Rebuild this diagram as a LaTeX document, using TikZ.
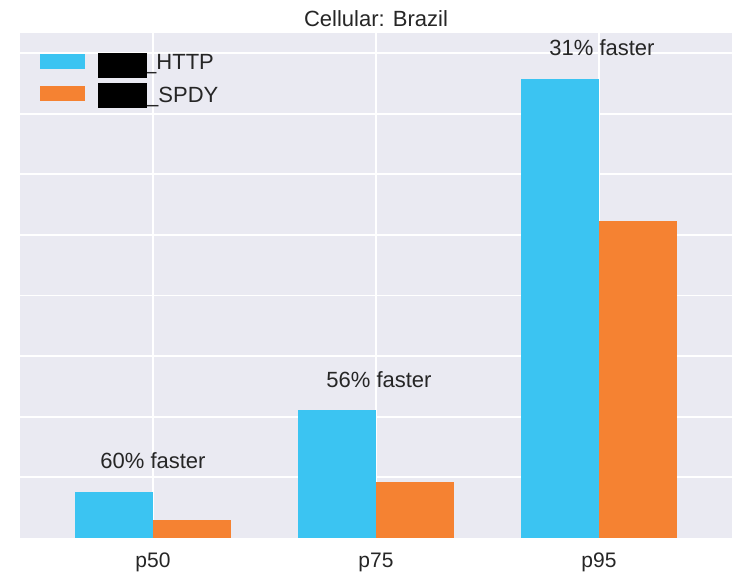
\documentclass[tikz,border=0pt]{standalone}
\usepackage{fontspec}
\setmainfont{Liberation Sans}
\definecolor{bgc}{HTML}{EAEAF2}
\definecolor{httpc}{HTML}{3BC4F2}
\definecolor{spdyc}{HTML}{F58232}
\definecolor{txt}{HTML}{262626}
\tikzset{
  lbl/.style={inner sep=0pt, anchor=base, text=txt, font=\fontsize{22}{26}\selectfont},
  tick/.style={inner sep=0pt, anchor=base, text=txt, font=\fontsize{21}{25}\selectfont},
  leg/.style={inner sep=0pt, anchor=base west, text=txt, font=\fontsize{22}{26}\selectfont},
  grid/.style={draw=white, line width=1.8pt},
  httpbar/.style={fill=httpc, draw=none},
  spdybar/.style={fill=spdyc, draw=none}
}
\begin{document}
\begin{tikzpicture}[x=1pt,y=-1pt]
\useasboundingbox (0,0) rectangle (732,573);
\fill[white] (0,0) rectangle (732,573);
% plot area
\fill[bgc] (20,33) rectangle (732,538);
% grid
\foreach \k in {0,...,7} {
  \draw[grid] (20,53+\k*60.625) -- (732,53+\k*60.625);
}
\foreach \gx in {153,376,599} {
  \draw[grid] (\gx,33) -- (\gx,538);
}
% bars
\path[httpbar] (75,492) rectangle (153,538);
\path[spdybar] (153,520) rectangle (231,538);
\path[httpbar] (298,410) rectangle (376,538);
\path[spdybar] (376,482) rectangle (454,538);
\path[httpbar] (521,79) rectangle (599,538);
\path[spdybar] (599,221) rectangle (677,538);
% annotations
\node[lbl] (a50) at (153,468) {60\% faster};
\node[lbl] (a75) at (379,387) {56\% faster};
\node[lbl] (a95) at (602,55) {31\% faster};
% tick labels
\node[tick] (t50) at (153,567) {p50};
\node[tick] (t75) at (376,567) {p75};
\node[tick] (t95) at (599,567) {p95};
% title
\node[lbl] (title) at (376,26) {Cellular: Brazil};
% legend
\path[httpbar] (40,54) rectangle (85,69);
\path[spdybar] (40,86) rectangle (85,101);
\node[leg] (lh) at (144,69) {\_HTTP};
\node[leg] (ls) at (146,102) {\_SPDY};
\fill[black] (98,53) rectangle (147,78);
\fill[black] (98,83) rectangle (147,108);
\end{tikzpicture}
\end{document}
